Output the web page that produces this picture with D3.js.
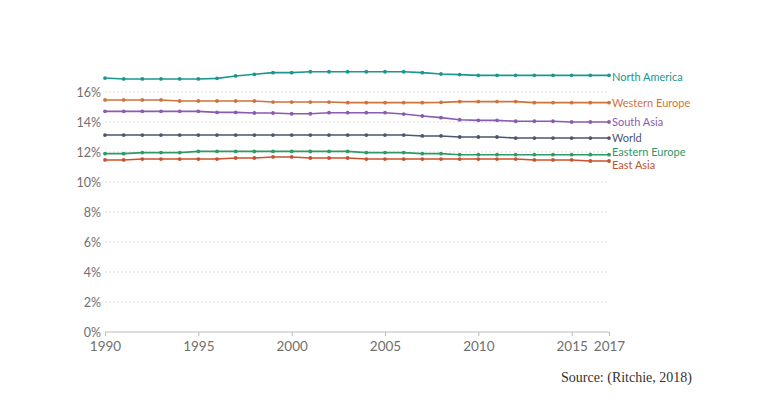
<!DOCTYPE html>
<html><head><meta charset="utf-8">
<script src="https://cdn.jsdelivr.net/npm/d3@7"></script>
<style>body{margin:0;background:#fff;}svg{display:block;}</style>
</head><body>
<svg id="chart" width="764" height="401"></svg>
<script>
const years = d3.range(1990, 2018);
const yTicks = [0, 2, 4, 6, 8, 10, 12, 14, 16];
const xTicks = [1990, 1995, 2000, 2005, 2010, 2015, 2017];
const seriesNames = ["North America", "Western Europe", "South Asia", "World", "Eastern Europe", "East Asia"];
const northAmerica = [16.93,16.87,16.87,16.87,16.87,16.87,16.91,17.07,17.18,17.29,17.29,17.35,17.35,17.35,17.35,17.35,17.35,17.29,17.2,17.16,17.11,17.11,17.11,17.11,17.11,17.11,17.11,17.11];
const westernEurope = [15.47,15.47,15.47,15.47,15.4,15.4,15.4,15.4,15.4,15.33,15.33,15.33,15.33,15.29,15.29,15.29,15.29,15.29,15.31,15.36,15.36,15.36,15.36,15.29,15.29,15.29,15.29,15.29];
const southAsia = [14.71,14.71,14.71,14.71,14.71,14.71,14.64,14.64,14.6,14.6,14.55,14.55,14.62,14.62,14.62,14.62,14.53,14.4,14.29,14.15,14.11,14.11,14.05,14.05,14.05,14.0,14.0,14.0];
const world = [13.13,13.13,13.13,13.13,13.13,13.13,13.13,13.13,13.13,13.13,13.13,13.13,13.13,13.13,13.13,13.13,13.13,13.07,13.07,13.0,13.0,13.0,12.93,12.93,12.93,12.93,12.93,12.93];
const easternEurope = [11.89,11.89,11.96,11.96,11.96,12.04,12.04,12.04,12.04,12.04,12.04,12.04,12.04,12.04,11.96,11.96,11.96,11.89,11.89,11.82,11.82,11.82,11.82,11.82,11.82,11.82,11.82,11.82];
const eastAsia = [11.47,11.47,11.53,11.53,11.53,11.53,11.53,11.6,11.6,11.67,11.67,11.6,11.6,11.6,11.53,11.53,11.53,11.53,11.53,11.53,11.53,11.53,11.53,11.47,11.47,11.47,11.4,11.4];
const seriesValues = [northAmerica, westernEurope, southAsia, world, easternEurope, eastAsia];
const colors = ["#1b9690", "#d0733a", "#8b5bb0", "#4d5670", "#2e9a66", "#c9512e"];
const labelY = [77, 103, 122, 138, 152, 165];

const svg = d3.select("#chart");
const x = d3.scaleLinear().domain([1990, 2017]).range([105, 609]);
const y = d3.scaleLinear().domain([0, 16]).range([332, 92]);

// gridlines
svg.append("g").selectAll("line").data(yTicks.filter(d => d > 0)).join("line")
  .attr("x1", x(1990)).attr("x2", x(2017))
  .attr("y1", d => y(d)).attr("y2", d => y(d))
  .attr("stroke", "#ddd").attr("stroke-dasharray", "2,2").attr("stroke-width", 1);

// y labels
const yAxis = d3.axisLeft(y).tickValues(yTicks).tickFormat(d => d + "%").tickSize(0).tickPadding(4);
const yg = svg.append("g").attr("transform", `translate(${x(1990)},0)`).call(yAxis);
yg.select(".domain").remove();
yg.selectAll("text").attr("fill", "#6f6f6f").style("font-family", "Lato, sans-serif").style("font-size", "12.5px");

// x axis
const xAxis = d3.axisBottom(x).tickValues(xTicks).tickFormat(d3.format("d")).tickSize(4).tickPadding(5);
const xg = svg.append("g").attr("transform", `translate(0,${y(0)})`).call(xAxis);
xg.select(".domain").attr("stroke", "#bbb").attr("d", `M${x(1990)},0H${x(2017)}`);
xg.selectAll(".tick line").attr("stroke", "#bbb");
xg.selectAll("text").attr("fill", "#6f6f6f").style("font-family", "Lato, sans-serif").style("font-size", "13.5px");

// lines
const line = d3.line().x((d, i) => x(years[i])).y(d => y(d));
seriesValues.forEach((vals, k) => {
  svg.append("path").datum(vals).attr("d", line).attr("fill", "none")
    .attr("stroke", colors[k]).attr("stroke-width", 1.6);
  svg.append("g").selectAll("circle").data(vals).join("circle")
    .attr("cx", (d, i) => x(years[i])).attr("cy", d => y(d)).attr("r", 1.9)
    .attr("fill", colors[k]);
  svg.append("text").attr("x", x(2017) + 3).attr("y", labelY[k]).attr("dy", "0.35em")
    .attr("fill", colors[k]).style("font-family", "Lato, sans-serif").style("font-size", "11px")
    .text(seriesNames[k]);
});

svg.append("text").attr("x", 692).attr("y", 382).attr("text-anchor", "end")
  .attr("fill", "#333").style("font-family", "'Liberation Serif', serif").style("font-size", "14px")
  .text("Source: (Ritchie, 2018)");
</script>
</body></html>
